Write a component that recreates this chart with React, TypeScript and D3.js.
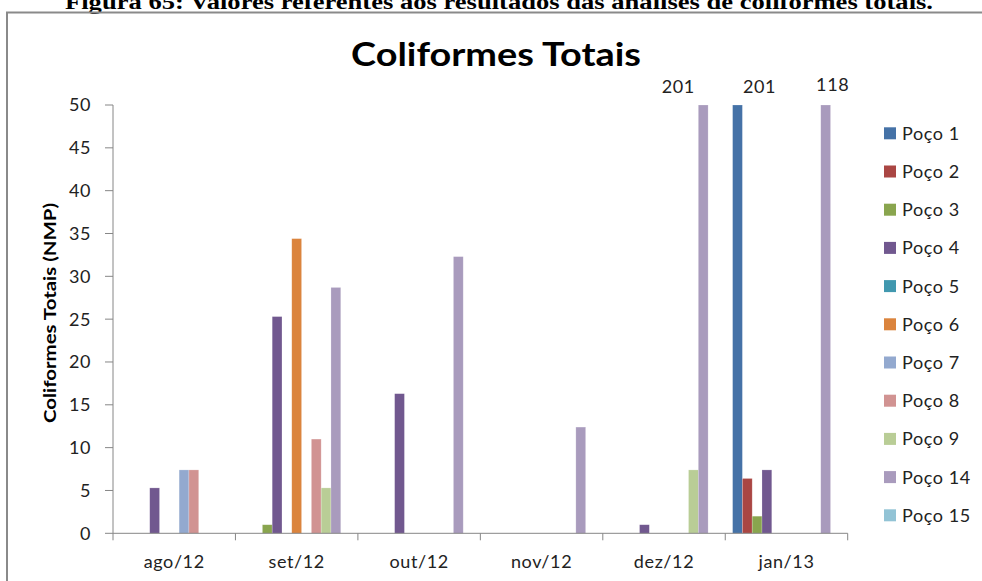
import React from "react";
import * as d3 from "d3";

const categories = ["ago/12", "set/12", "out/12", "nov/12", "dez/12", "jan/13"];
const seriesNames = ["Poço 1", "Poço 2", "Poço 3", "Poço 4", "Poço 5", "Poço 6", "Poço 7", "Poço 8", "Poço 9", "Poço 14", "Poço 15"];
const seriesColors = ["#4572A7", "#AA4643", "#89A54E", "#71588F", "#4198AF", "#DB843D", "#93A9CF", "#D19392", "#B9CD96", "#A99BBD", "#92C3D5"];

const poco1 = [0, 0, 0, 0, 0, 201];
const poco2 = [0, 0, 0, 0, 0, 6.4];
const poco3 = [0, 1, 0, 0, 0, 2];
const poco4 = [5.3, 25.3, 16.3, 0, 1, 7.4];
const poco5 = [0, 0, 0, 0, 0, 0];
const poco6 = [0, 34.4, 0, 0, 0, 0];
const poco7 = [7.4, 0, 0, 0, 0, 0];
const poco8 = [7.4, 11, 0, 0, 0, 0];
const poco9 = [0, 5.3, 0, 0, 7.4, 0];
const poco14 = [0, 28.7, 32.3, 12.4, 201, 118];
const poco15 = [0, 0, 0, 0, 0, 0];
const seriesValues = [poco1, poco2, poco3, poco4, poco5, poco6, poco7, poco8, poco9, poco14, poco15];

const yTicks = [0, 5, 10, 15, 20, 25, 30, 35, 40, 45, 50];
const yMax = 50;

// offsets of the manually placed overflow labels (series index, category index) -> [dx, dy]
const overflowLabelOffsets: Record<string, [number, number]> = {
  "9-4": [-25, -12],
  "0-5": [22, -12],
  "9-5": [7, -14],
};

const FONT = "Lato, 'Open Sans', sans-serif";
const LS = 0.6;

export default function App() {
  const W = 982, H = 581;
  const left = 113, right = 847.7, top = 105, bottom = 533.3;
  const x = d3.scaleBand<string>().domain(categories).range([left, right]).padding(0);
  const xi = d3.scaleBand<number>().domain(d3.range(seriesNames.length)).range([0, x.bandwidth()]).paddingInner(0).paddingOuter(0.75);
  const y = d3.scaleLinear().domain([0, yMax]).range([bottom, top]);

  const bars: React.ReactNode[] = [];
  const labels: React.ReactNode[] = [];
  seriesValues.forEach((vals, si) => {
    vals.forEach((v, ci) => {
      if (!v) return;
      const bx = (x(categories[ci]) as number) + (xi(si) as number);
      const vv = Math.min(v, yMax);
      bars.push(
        <rect key={`b${si}-${ci}`} x={bx} y={y(vv)} width={xi.bandwidth()} height={y(0) - y(vv)}
          fill={seriesColors[si]} stroke="#ffffff" strokeOpacity={0.35} strokeWidth={0.6} />
      );
      if (v > yMax) {
        const off = overflowLabelOffsets[`${si}-${ci}`] || [0, -12];
        labels.push(
          <text key={`l${si}-${ci}`} x={bx + xi.bandwidth() / 2 + off[0]} y={y(yMax) + off[1]}
            textAnchor="middle" fontFamily={FONT} fontSize={18} letterSpacing={LS} fill="#222">{v}</text>
        );
      }
    });
  });

  const legendTop = 133.3, legendStep = 38.2;

  return (
    <svg width={W} height={H} style={{ position: "absolute", left: 0, top: 0, background: "#fff" }}>
      <text x={499} y={9} textAnchor="middle" fontFamily="'Liberation Serif', 'Times New Roman', serif"
        fontWeight="bold" fontSize={20} textLength={868} lengthAdjust="spacingAndGlyphs">
        Figura 65: Valores referentes aos resultados das análises de coliformes totais.
      </text>
      <path d={`M7,${H + 5} V12.5 H${W + 5}`} fill="none" stroke="#8a8a8a" strokeWidth={2} />

      <text x={496} y={66} textAnchor="middle" fontFamily={FONT} fontWeight="bold" fontSize={32}
        textLength={290} lengthAdjust="spacingAndGlyphs" fill="#000">Coliformes Totais</text>

      {/* y axis */}
      <line x1={left} x2={left} y1={top} y2={bottom} stroke="#868686" strokeWidth={1} />
      {yTicks.map((t) => (
        <g key={t}>
          <line x1={left - 8} x2={left} y1={y(t)} y2={y(t)} stroke="#868686" />
          <text x={91} y={y(t)} dy="0.36em" textAnchor="end" fontFamily={FONT} fontSize={18} letterSpacing={LS} fill="#222">{t}</text>
        </g>
      ))}
      <text transform={`translate(56,313) rotate(-90)`} textAnchor="middle"
        fontFamily={FONT} fontWeight="bold" fontSize={17} textLength={220} lengthAdjust="spacingAndGlyphs"
        fill="#000">Coliformes Totais (NMP)</text>

      {bars}

      {/* x axis */}
      <line x1={left} x2={right} y1={bottom} y2={bottom} stroke="#868686" />
      {[...categories.map((c) => x(c) as number), right].map((tx, i) => (
        <line key={i} x1={tx} x2={tx} y1={bottom} y2={bottom + 7} stroke="#868686" />
      ))}
      {categories.map((c) => (
        <text key={c} x={(x(c) as number) + x.bandwidth() / 2} y={568} textAnchor="middle"
          fontFamily={FONT} fontSize={18} letterSpacing={LS} fill="#222">{c}</text>
      ))}

      {labels}

      {/* legend */}
      {seriesNames.map((n, i) => (
        <g key={n} transform={`translate(884,${legendTop + i * legendStep})`}>
          <rect x={0} y={-6} width={12} height={12} fill={seriesColors[i]} />
          <text x={18} y={0} dy="0.36em" fontFamily={FONT} fontSize={18} letterSpacing={LS} fill="#222">{n}</text>
        </g>
      ))}
    </svg>
  );
}
